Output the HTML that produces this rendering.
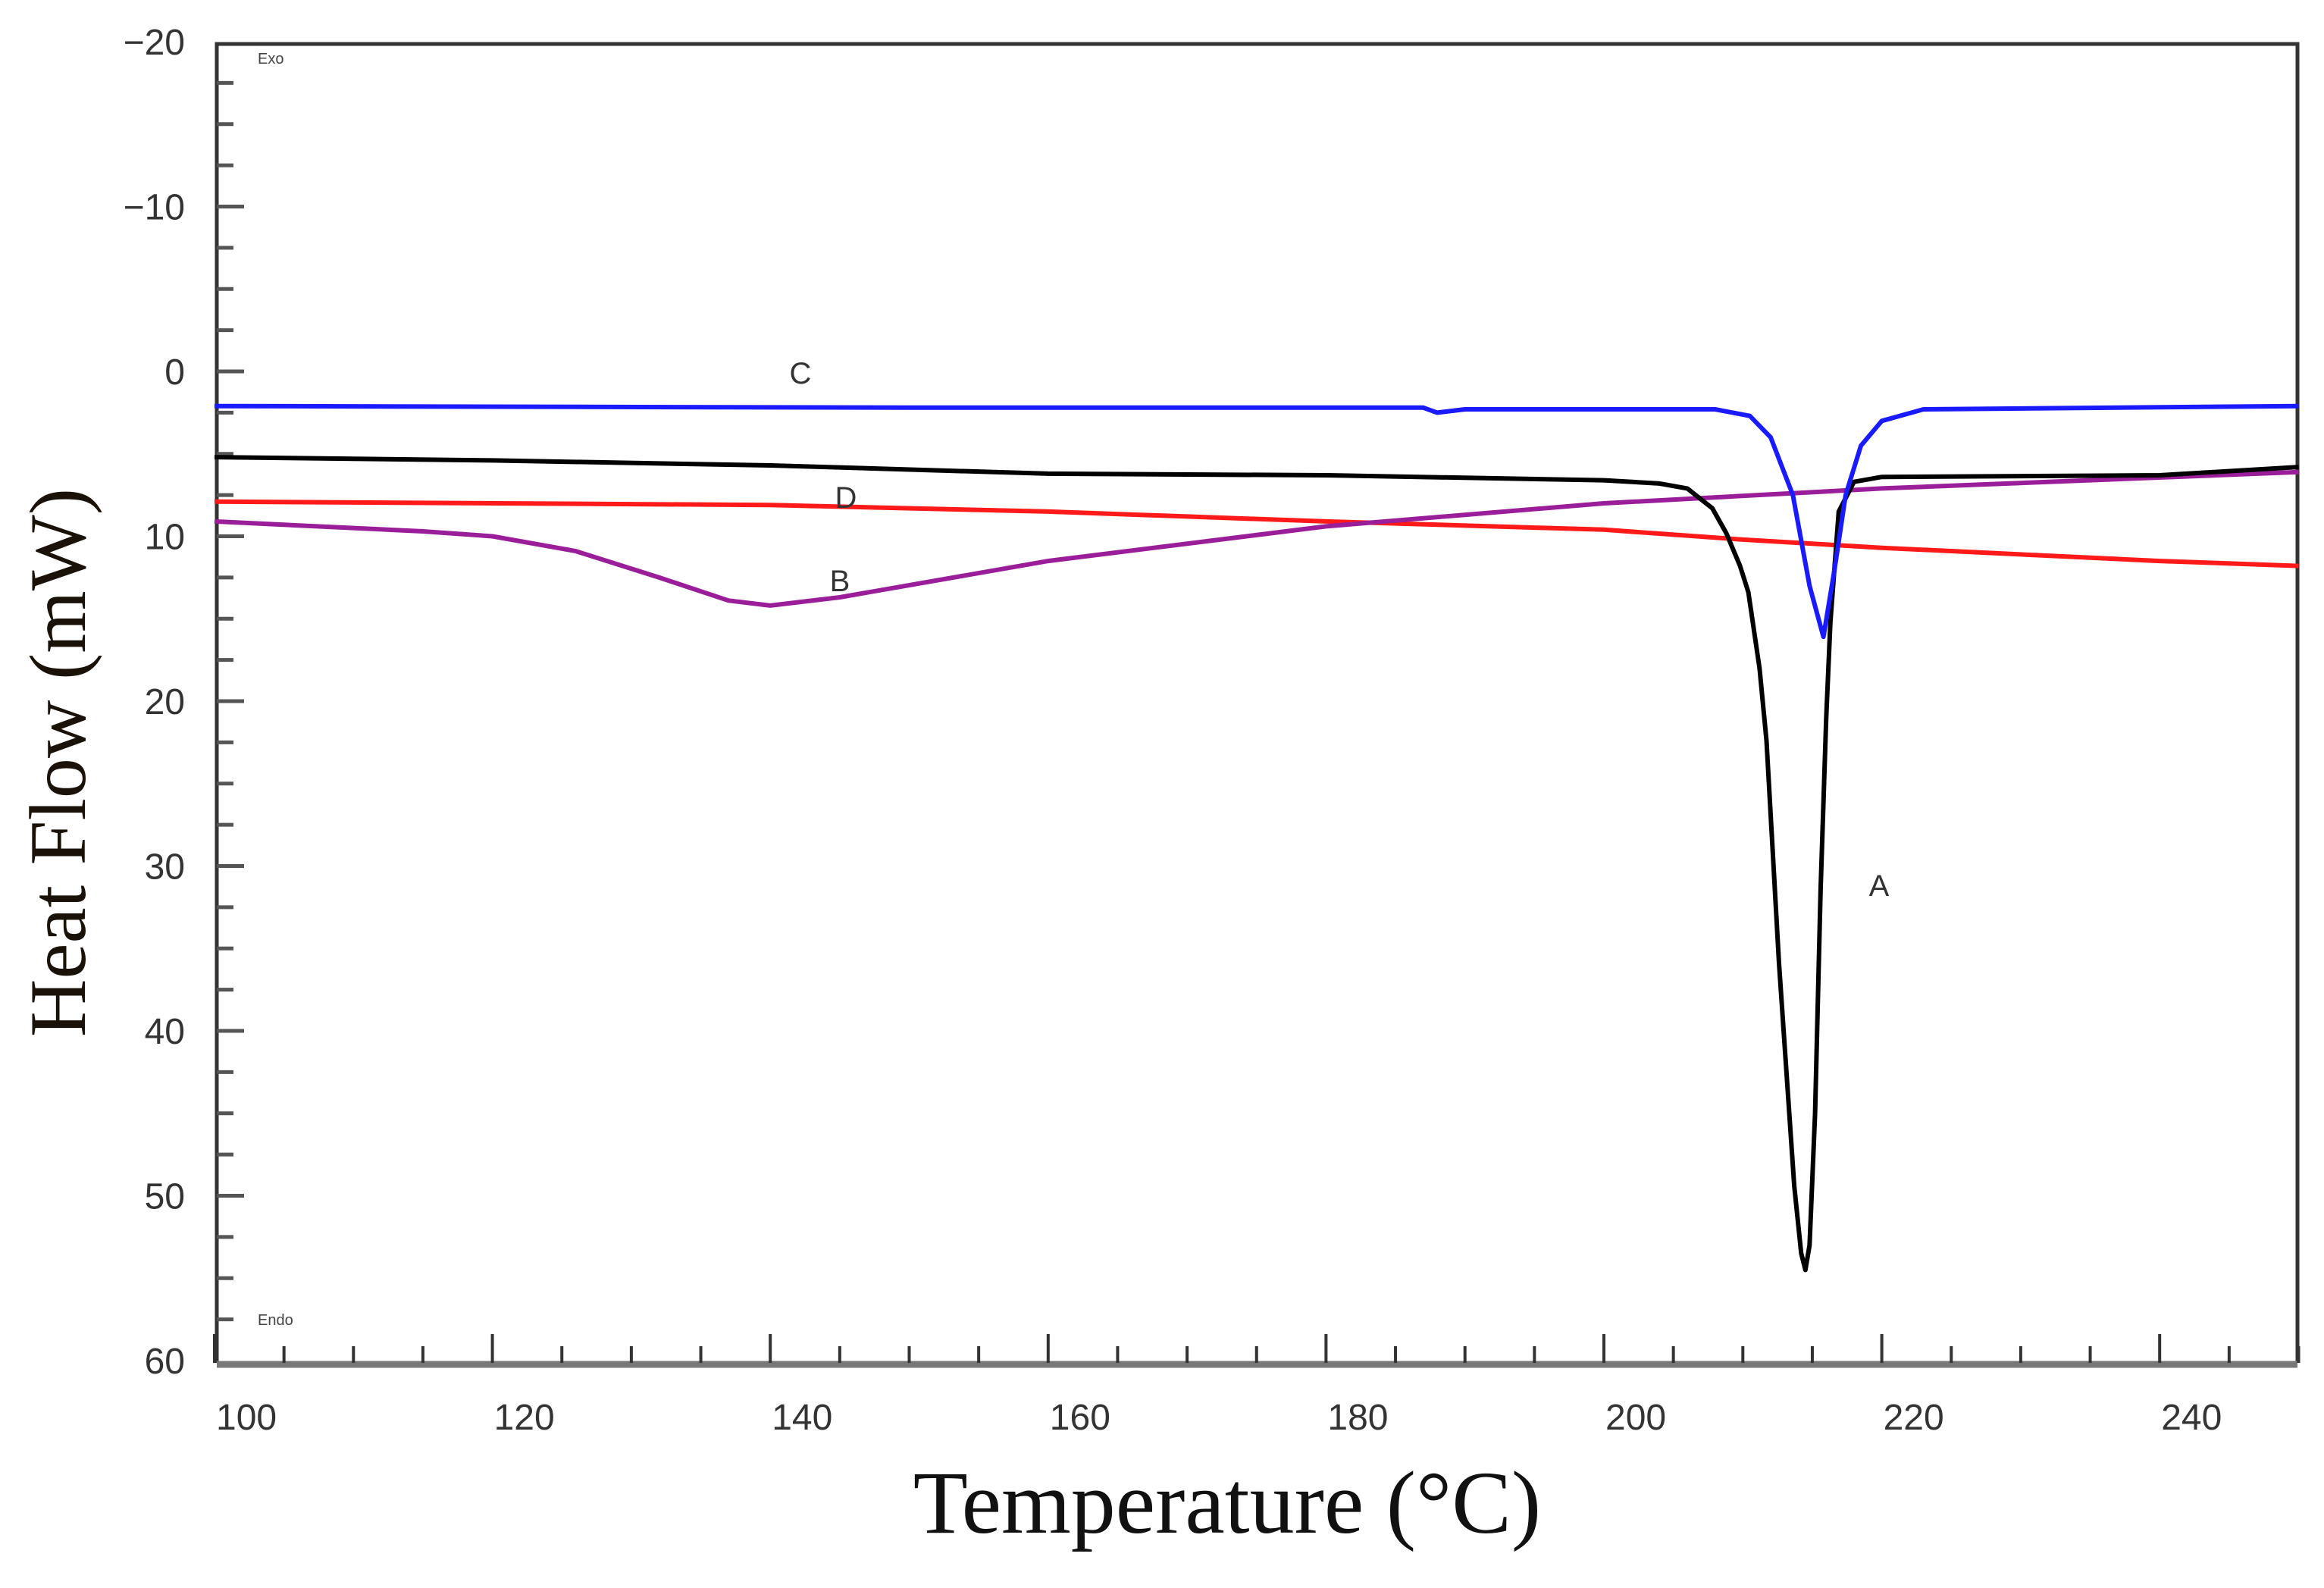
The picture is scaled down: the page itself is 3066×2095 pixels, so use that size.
<!DOCTYPE html>
<html><head><meta charset="utf-8"><style>
html,body{margin:0;padding:0;background:#fff}
svg{display:block}
</style></head><body>
<svg id="chart" width="3066" height="2095" viewBox="0 0 3066 2095" xmlns="http://www.w3.org/2000/svg">
<rect width="3066" height="2095" fill="#fff"/>
<g id="axes"></g>
<g id="series"></g>
<text transform="translate(112,1006) rotate(-90)" text-anchor="middle" font-family="Liberation Serif, serif" font-size="106" fill="#1a1208">Heat Flow (mW)</text>
<text x="1619" y="2022" text-anchor="middle" font-family="Liberation Serif, serif" font-size="118" fill="#111">Temperature (°C)</text>
<text x="340" y="84" font-family="Liberation Sans, sans-serif" font-size="20" fill="#444">Exo</text>
<text x="340" y="1748" font-family="Liberation Sans, sans-serif" font-size="20" fill="#444">Endo</text>
<text x="1056" y="506" text-anchor="middle" font-family="Liberation Sans, sans-serif" font-size="40" fill="#333">C</text>
<text x="1116" y="670" text-anchor="middle" font-family="Liberation Sans, sans-serif" font-size="40" fill="#333">D</text>
<text x="1108" y="780" text-anchor="middle" font-family="Liberation Sans, sans-serif" font-size="40" fill="#333">B</text>
<text x="2479" y="1182" text-anchor="middle" font-family="Liberation Sans, sans-serif" font-size="40" fill="#333">A</text>
</svg>
<script>
const xTicks = [100,120,140,160,180,200,220,240];
const yTicks = [-20,-10,0,10,20,30,40,50,60];
const yTickLabels = ["\u221220","\u221210","0","10","20","30","40","50","60"];
const cX = [100,150,187,188,190,208,210.5,212,213.6,214.8,215.8,216.6,217.4,218.5,220,223,250];
const cY = [2.1,2.2,2.2,2.5,2.3,2.3,2.7,4.0,7.5,13.0,16.1,12.0,7.5,4.5,3.0,2.3,2.1];
const aX = [100,120,140,160,180,200,204,206,207.8,208.8,209.8,210.4,211.2,211.7,212.6,213.7,214.2,214.5,214.8,215.2,215.6,216.0,216.3,216.9,218,220,240,250];
const aY = [5.2,5.4,5.7,6.2,6.3,6.6,6.8,7.1,8.3,9.8,11.8,13.4,18.0,22.4,35.9,49.4,53.5,54.5,53.0,45.0,31.4,21.0,15.2,8.5,6.7,6.4,6.3,5.8];
const bX = [100,115,120,126,132,137,140,145,160,180,200,220,250];
const bY = [9.1,9.7,10.0,10.9,12.5,13.9,14.2,13.7,11.5,9.4,8.0,7.1,6.1];
const dX = [100,140,160,180,200,210,220,240,250];
const dY = [7.9,8.1,8.5,9.1,9.6,10.2,10.7,11.5,11.8];

const X0=283, XS=366.6/20, Y0=55, YS=217.5/10;
const L=286, R=3031, T=58, B=1798;
function sx(v){return X0+(v-100)*XS;}
function sy(v){return Y0+(v+20)*YS;}
const NS='http://www.w3.org/2000/svg';
function mk(tag,attrs,parent){const e=document.createElementNS(NS,tag);for(const k in attrs)e.setAttribute(k,attrs[k]);parent.appendChild(e);return e;}
const axes=document.getElementById('axes');
const frame=mk('path',{d:`M${L},${B} L${L},${T} L${R},${T} L${R},${B}`,fill:'none',stroke:'#333','stroke-width':5},axes);


const xax=mk('line',{x1:L,y1:B+2,x2:R,y2:B+2,stroke:'#777','stroke-width':9},axes);


for(let v=100;v<=250;v+=5){
  const major=(v%20===0);
  const t=mk('line',{x1:sx(v),y1:B,x2:sx(v),y2:B-(major?38:22),stroke:'#333','stroke-width':4},axes);
  
  
}
for(let v=-17.5;v<60;v+=2.5){
  const major=(v%10===0);
  const t=mk('line',{x1:L,y1:sy(v),x2:L+(major?36:22),y2:sy(v),stroke:'#555','stroke-width':5},axes);
  
  
}
xTicks.forEach(v=>{
  const t=mk('text',{x:sx(v)+2,y:1886,'font-family':'Liberation Sans, sans-serif','font-size':48,fill:'#333'},axes);
  t.textContent=String(v);
  
  
});
yTicks.forEach((v,i)=>{
  const t=mk('text',{x:244,y:sy(v)+17,'text-anchor':'end','font-family':'Liberation Sans, sans-serif','font-size':48,fill:'#333'},axes);
  t.textContent=yTickLabels[i];
  
  
});
const series=document.getElementById('series');
function line(xs,ys,color,name){
  const d=xs.map((x,i)=>(i?'L':'M')+sx(x).toFixed(1)+','+sy(ys[i]).toFixed(1)).join(' ');
  const p=mk('path',{d:d,fill:'none',stroke:color,'stroke-width':6,'stroke-linejoin':'round'},series);
  
  
}
line(dX,dY,'#ff1a1a','curve-d');
line(bX,bY,'#9a1e9a','curve-b');
line(aX,aY,'#000','curve-a');
line(cX,cY,'#1a1aff','curve-c');
</script>
</body></html>
